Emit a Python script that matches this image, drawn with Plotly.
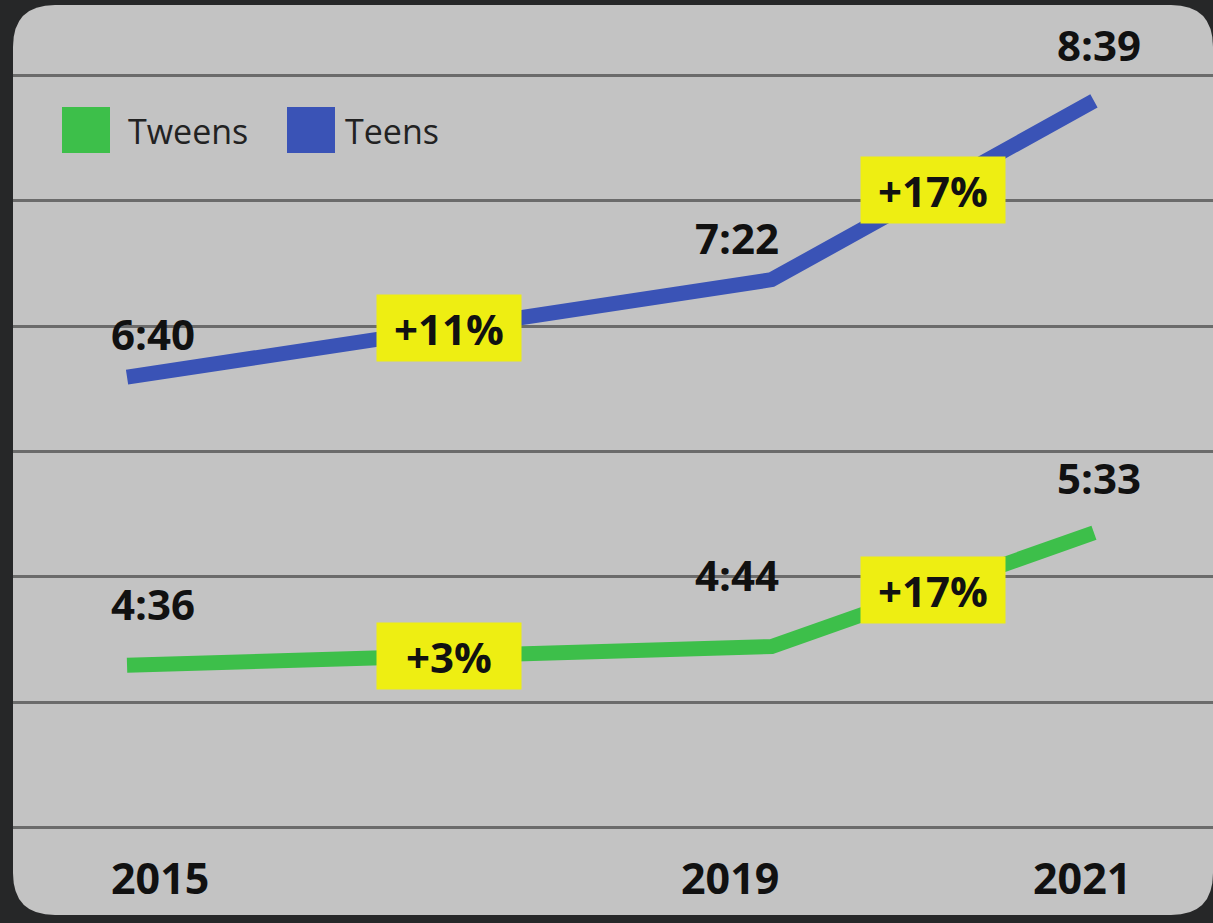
import math
import plotly.graph_objects as go

# ---------------- data ----------------
years = [2015, 2019, 2021]
tweens_minutes = [276, 284, 333]   # 4:36, 4:44, 5:33
teens_minutes = [400, 442, 519]    # 6:40, 7:22, 8:39
series_names = ["Tweens", "Teens"]
year_labels = ["2015", "2019", "2021"]

# ---------------- style ----------------
W, H = 1213, 923
ML, MR, MT, MB = 13, 0, 66, 86
PW, PH = W - ML - MR, H - MT - MB
GREEN = "#3dbf4a"
BLUE = "#3a53b6"
YELLOW = "#eeee12"
PANEL = "#c3c3c3"
GRID = "#6b6b6b"
DARK = "#262728"
FONT = "Open Sans"
BOLD = dict(family=FONT, color="#111111", weight="bold")


def fmt(m):
    return f"{m // 60}:{m % 60:02d}"


def px(x):  # pixel -> paper x
    return (x - ML) / PW


def py(y):  # pixel -> paper y
    return (H - MB - y) / PH


fig = go.Figure()
for name, vals, col in [(series_names[0], tweens_minutes, GREEN), (series_names[1], teens_minutes, BLUE)]:
    fig.add_trace(go.Scatter(x=years, y=vals, mode="lines", name=name,
                             line=dict(color=col, width=15), showlegend=False,
                             hoverinfo="skip"))

annotations = []
label_xshift = [26, -35, 5]
label_yshift = {"Tweens": [62, 72, 55], "Teens": [44, 42, 56]}
for name, vals in zip(series_names, (tweens_minutes, teens_minutes)):
    for i, (yr, v) in enumerate(zip(years, vals)):
        annotations.append(dict(x=yr, y=v, text=fmt(v), showarrow=False,
                                xshift=label_xshift[i], yshift=label_yshift[name][i],
                                font=dict(BOLD, size=42)))
    for i in range(len(years) - 1):
        pct = math.floor((vals[i + 1] / vals[i] - 1) * 100 + 0.5 + 1e-9)
        annotations.append(dict(x=(years[i] + years[i + 1]) / 2, y=(vals[i] + vals[i + 1]) / 2,
                                text=f"+{pct}%", showarrow=False, bgcolor=YELLOW,
                                width=140, height=62, borderpad=2,
                                font=dict(BOLD, size=42)))

# year labels under the axis
year_xshift = [33, -42, -12]
for yr, lab, xs in zip(years, year_labels, year_xshift):
    annotations.append(dict(x=yr, xref="x", y=py(877), yref="paper", text=lab,
                            showarrow=False, xshift=xs, yanchor="middle",
                            font=dict(BOLD, size=43)))

# legend (drawn manually for large square swatches)
legend_items = [(series_names[0], GREEN, 62, 126), (series_names[1], BLUE, 287, 343)]
shapes = []
# rounded panel
x0, x1, y0, y1, r = 13, 1213, 5, 915, 42
path = (f"M {px(x0+r)},{py(y0)} L {px(x1-r)},{py(y0)} Q {px(x1)},{py(y0)} {px(x1)},{py(y0+r)} "
        f"L {px(x1)},{py(y1-r)} Q {px(x1)},{py(y1)} {px(x1-r)},{py(y1)} "
        f"L {px(x0+r)},{py(y1)} Q {px(x0)},{py(y1)} {px(x0)},{py(y1-r)} "
        f"L {px(x0)},{py(y0+r)} Q {px(x0)},{py(y0)} {px(x0+r)},{py(y0)} Z")
shapes.append(dict(type="path", xref="paper", yref="paper", path=path,
                   fillcolor=PANEL, line=dict(width=0), layer="below"))
for name, col, sx, tx in legend_items:
    shapes.append(dict(type="rect", xref="paper", yref="paper",
                       x0=px(sx), x1=px(sx + 48), y0=py(153), y1=py(107),
                       fillcolor=col, line=dict(width=0), layer="above"))
    annotations.append(dict(xref="paper", yref="paper", x=px(tx), y=py(131), text=name,
                            showarrow=False, xanchor="left", yanchor="middle",
                            font=dict(family=FONT, size=34, color="#222222")))

fig.update_layout(
    width=W, height=H,
    margin=dict(l=ML, r=MR, t=MT, b=MB),
    paper_bgcolor=DARK, plot_bgcolor="rgba(0,0,0,0)",
    shapes=shapes, annotations=annotations,
    xaxis=dict(range=[2015 - 114 / 161.1, 2021 + 119 / 161.1], showgrid=False, zeroline=False,
               tickmode="array", tickvals=years, showticklabels=False, ticks=""),
    yaxis=dict(range=[202, 534], tick0=206, dtick=54, showgrid=True, gridcolor=GRID,
               gridwidth=3, zeroline=False, showticklabels=False, ticks=""),
)

fig.write_html("out.html", config={"displayModeBar": False},
               post_script="document.body.style.margin='0';document.body.style.overflow='hidden';")
